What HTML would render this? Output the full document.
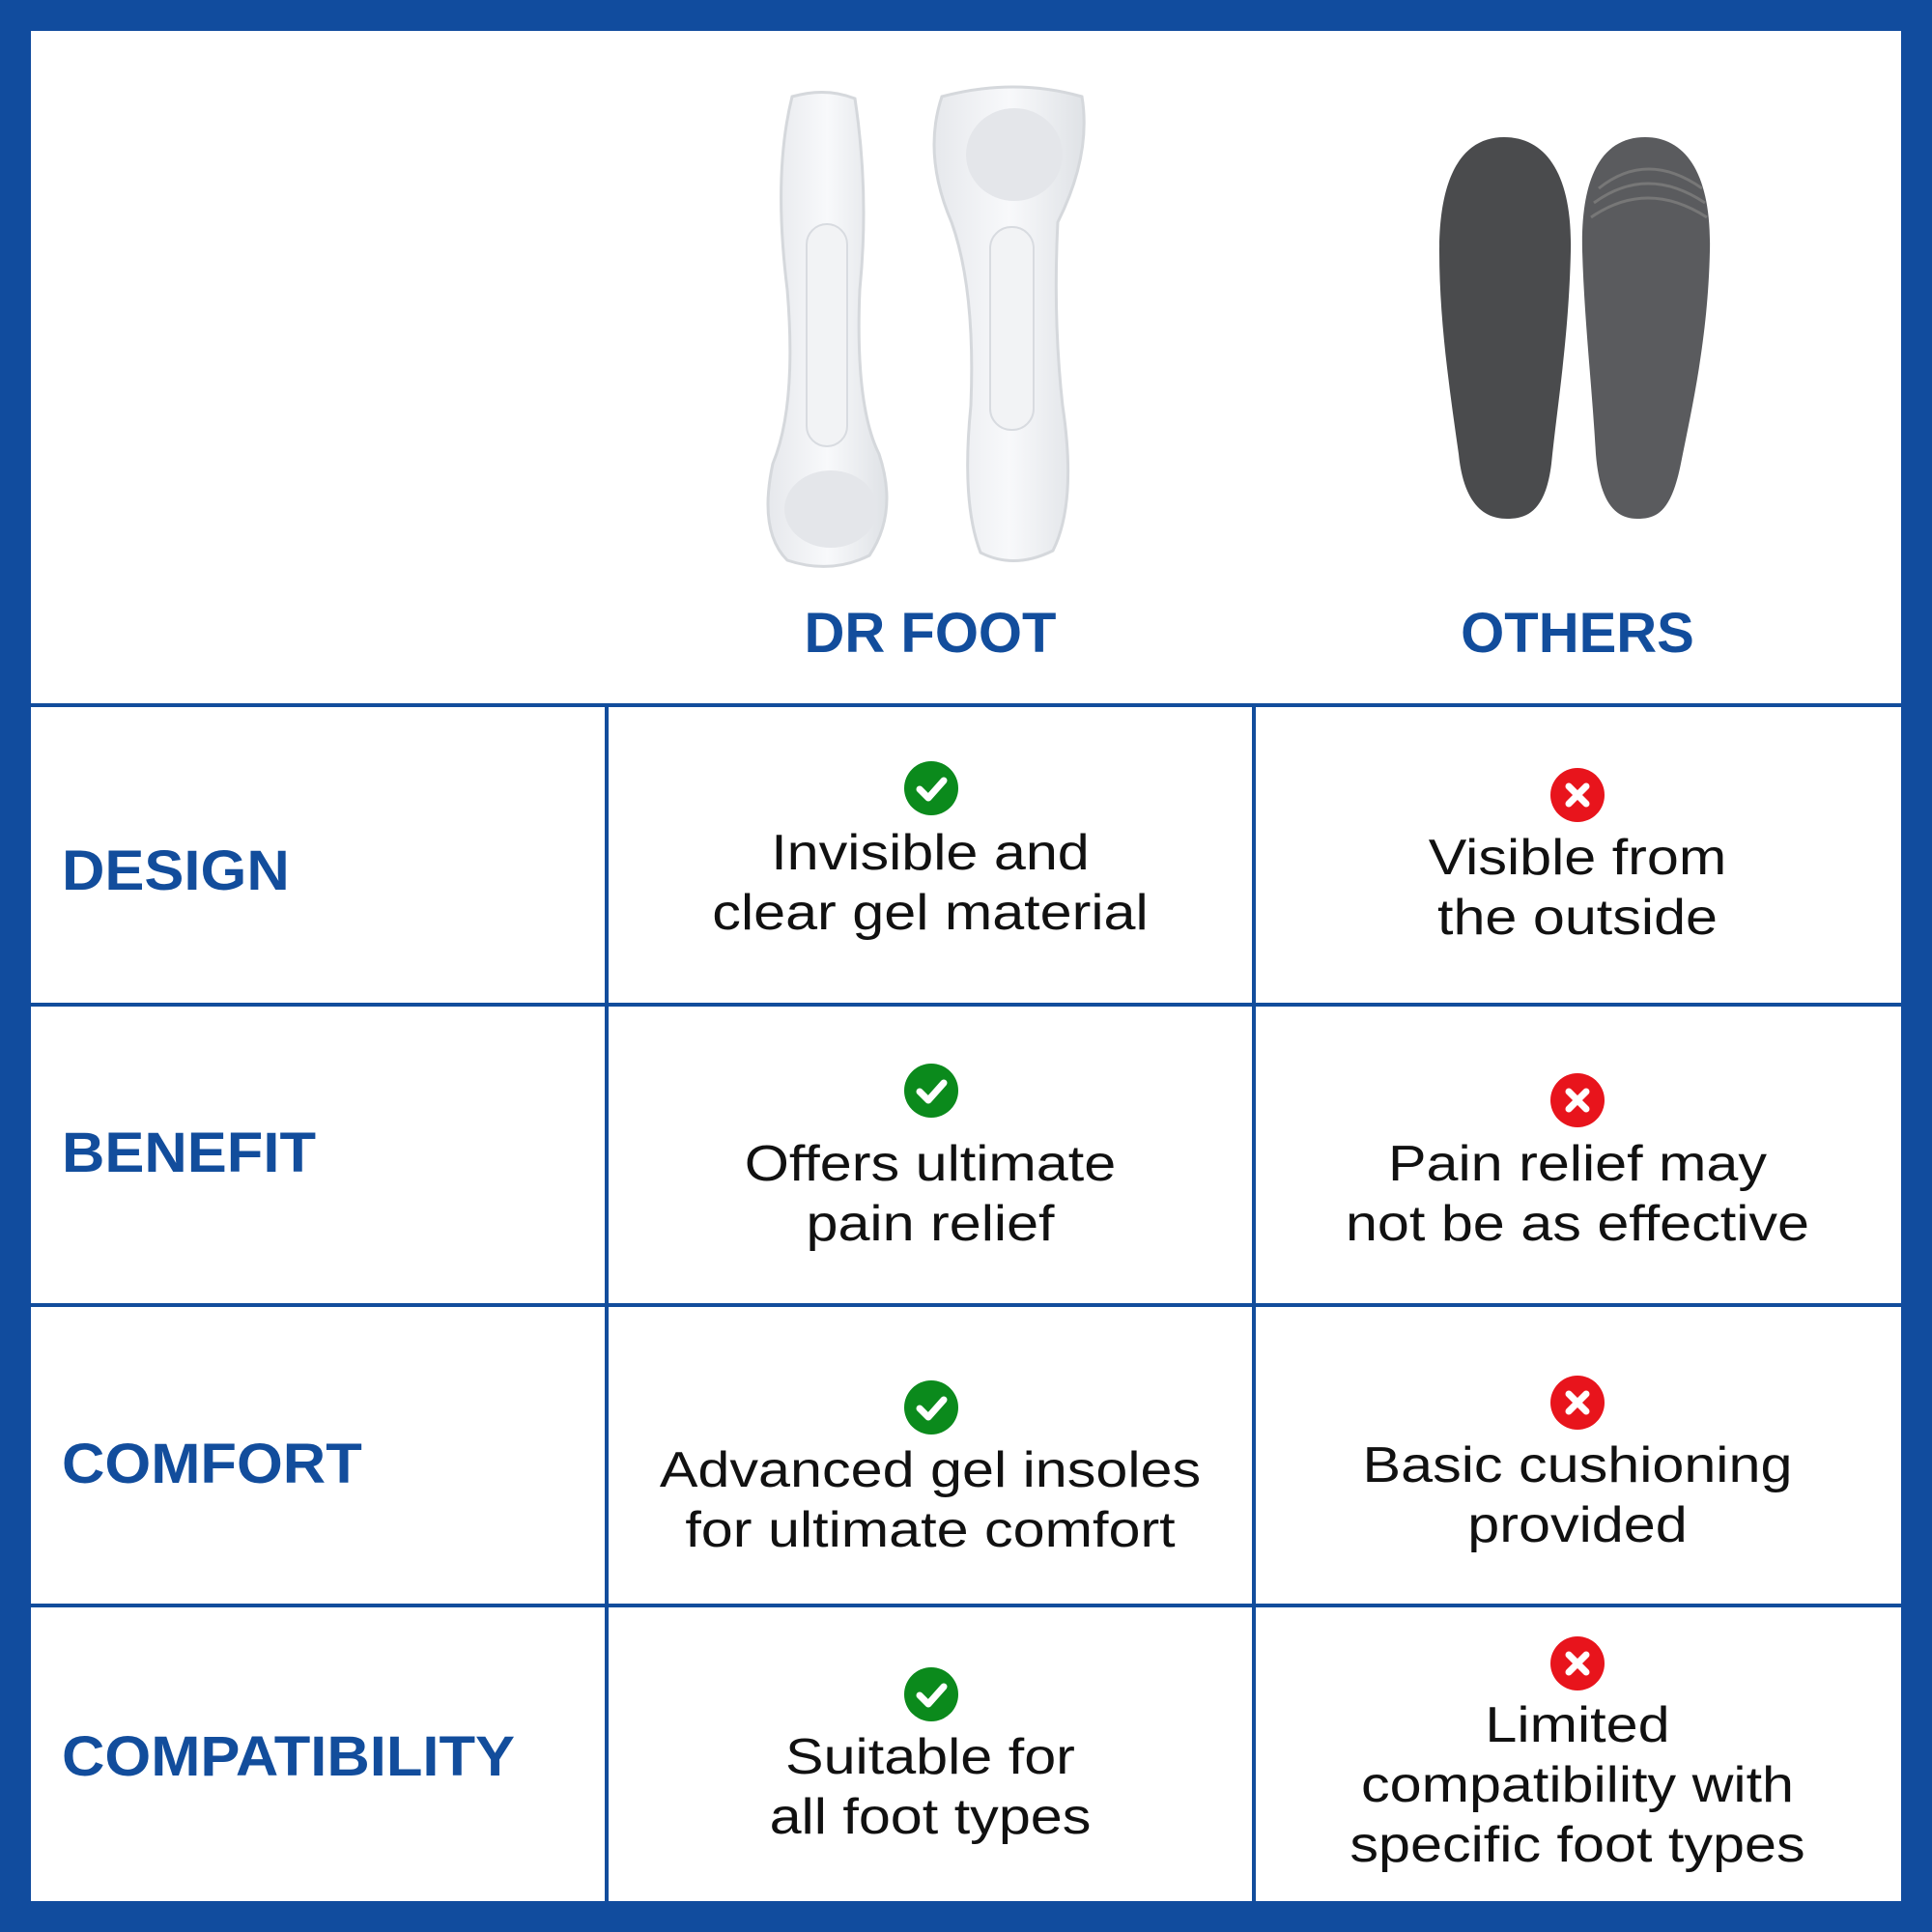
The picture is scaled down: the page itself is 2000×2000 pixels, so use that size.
<!DOCTYPE html>
<html><head><meta charset="utf-8"><style>
*{margin:0;padding:0;box-sizing:border-box}
body{width:2000px;height:2000px;background:#114c9e;position:relative;overflow:hidden;font-family:"Liberation Sans",sans-serif}
#in{position:absolute;left:32px;top:32px;width:1936px;height:1936px;background:#fff}
.h{position:absolute;left:32px;width:1936px;height:4px;background:#124d9c}
.v{position:absolute;width:4px;background:#124d9c;top:730px;height:1238px}
.lab{position:absolute;left:64px;color:#124d9c;font-weight:bold;font-size:58px;line-height:70px;transform:scaleX(1.06);transform-origin:left center}
.hd{position:absolute;width:600px;text-align:center;color:#124d9c;font-weight:bold;font-size:58px;line-height:70px}
.t{position:absolute;width:640px;text-align:center;color:#111;font-size:52px;line-height:62px;white-space:nowrap;transform:scaleX(1.14);transform-origin:center}
.ic{position:absolute;width:56px;height:56px;border-radius:50%}
.ok{background:#0b8a1c}.no{background:#e8141c}
.ic svg{position:absolute;left:0;top:0}
</style></head><body>
<div id="in"></div>
<div class="h" style="top:728px"></div>
<div class="h" style="top:1038px"></div>
<div class="h" style="top:1349px"></div>
<div class="h" style="top:1660px"></div>
<div class="v" style="left:626px"></div>
<div class="v" style="left:1296px"></div>

<svg style="position:absolute;left:0;top:0" width="2000" height="700">
<defs><linearGradient id="g" x1="0" x2="1"><stop offset="0" stop-color="#e6e8ec"/><stop offset=".5" stop-color="#f8f9fb"/><stop offset="1" stop-color="#dfe2e6"/></linearGradient></defs>
<path d="M820 100 Q855 90 885 102 Q900 200 890 300 Q885 420 910 470 Q930 530 900 575 Q860 595 815 580 Q785 550 800 480 Q825 420 815 300 Q800 180 820 100Z" fill="url(#g)" stroke="#d5d8dc" stroke-width="3"/>
<rect x="835" y="232" width="42" height="230" rx="21" fill="#f2f3f5" stroke="#d8dbe0" stroke-width="2"/>
<ellipse cx="860" cy="527" rx="48" ry="40" fill="#e4e6ea"/>
<path d="M975 100 Q1050 80 1120 100 Q1130 160 1095 230 Q1090 330 1100 420 Q1115 520 1090 570 Q1050 590 1015 572 Q995 520 1005 420 Q1010 300 985 230 Q955 160 975 100Z" fill="url(#g)" stroke="#d5d8dc" stroke-width="3"/>
<ellipse cx="1050" cy="160" rx="50" ry="48" fill="#e4e6ea"/>
<rect x="1025" y="235" width="45" height="210" rx="22" fill="#f2f3f5" stroke="#d8dbe0" stroke-width="2"/>
<path d="M1557 142 C1600 142 1628 180 1626 260 C1624 350 1612 420 1606 480 C1600 530 1580 537 1560 537 C1535 537 1515 520 1510 470 C1500 400 1490 330 1490 260 C1490 180 1515 142 1557 142Z" fill="#4a4b4d"/>
<path d="M1703 142 C1745 142 1772 180 1770 260 C1768 350 1752 420 1740 480 C1730 530 1715 537 1695 537 C1672 537 1656 520 1652 470 C1648 400 1640 330 1638 260 C1636 180 1660 142 1703 142Z" fill="#5a5b5e"/>
<path d="M1655 195 Q1705 155 1762 195 M1650 210 Q1705 170 1765 210 M1647 225 Q1705 185 1767 225" stroke="#777" stroke-width="3" fill="none"/>
</svg>

<div class="hd" style="left:663px;top:621px">DR FOOT</div>
<div class="hd" style="left:1333px;top:621px">OTHERS</div>

<div class="lab" style="top:867px">DESIGN</div>
<div class="lab" style="top:1159px">BENEFIT</div>
<div class="lab" style="top:1481px">COMFORT</div>
<div class="lab" style="top:1784px">COMPATIBILITY</div>

<div class="ic ok" style="left:936px;top:788px"><svg width="56" height="56"><path d="M16 29 L25 38 L41 20" stroke="#fff" stroke-width="7" fill="none" stroke-linecap="round" stroke-linejoin="round"/></svg></div>
<div class="ic ok" style="left:936px;top:1101px"><svg width="56" height="56"><path d="M16 29 L25 38 L41 20" stroke="#fff" stroke-width="7" fill="none" stroke-linecap="round" stroke-linejoin="round"/></svg></div>
<div class="ic ok" style="left:936px;top:1429px"><svg width="56" height="56"><path d="M16 29 L25 38 L41 20" stroke="#fff" stroke-width="7" fill="none" stroke-linecap="round" stroke-linejoin="round"/></svg></div>
<div class="ic ok" style="left:936px;top:1726px"><svg width="56" height="56"><path d="M16 29 L25 38 L41 20" stroke="#fff" stroke-width="7" fill="none" stroke-linecap="round" stroke-linejoin="round"/></svg></div>

<div class="ic no" style="left:1605px;top:795px"><svg width="56" height="56"><path d="M19 19 L37 37 M37 19 L19 37" stroke="#fff" stroke-width="7" stroke-linecap="round"/></svg></div>
<div class="ic no" style="left:1605px;top:1111px"><svg width="56" height="56"><path d="M19 19 L37 37 M37 19 L19 37" stroke="#fff" stroke-width="7" stroke-linecap="round"/></svg></div>
<div class="ic no" style="left:1605px;top:1424px"><svg width="56" height="56"><path d="M19 19 L37 37 M37 19 L19 37" stroke="#fff" stroke-width="7" stroke-linecap="round"/></svg></div>
<div class="ic no" style="left:1605px;top:1694px"><svg width="56" height="56"><path d="M19 19 L37 37 M37 19 L19 37" stroke="#fff" stroke-width="7" stroke-linecap="round"/></svg></div>

<div class="t" style="left:643px;top:852px">Invisible and<br>clear gel material</div>
<div class="t" style="left:1313px;top:857px">Visible from<br>the outside</div>
<div class="t" style="left:643px;top:1174px">Offers ultimate<br>pain relief</div>
<div class="t" style="left:1313px;top:1174px">Pain relief may<br>not be as effective</div>
<div class="t" style="left:643px;top:1491px">Advanced gel insoles<br>for ultimate comfort</div>
<div class="t" style="left:1313px;top:1486px">Basic cushioning<br>provided</div>
<div class="t" style="left:643px;top:1788px">Suitable for<br>all foot types</div>
<div class="t" style="left:1313px;top:1755px">Limited<br>compatibility with<br>specific foot types</div>
</body></html>
